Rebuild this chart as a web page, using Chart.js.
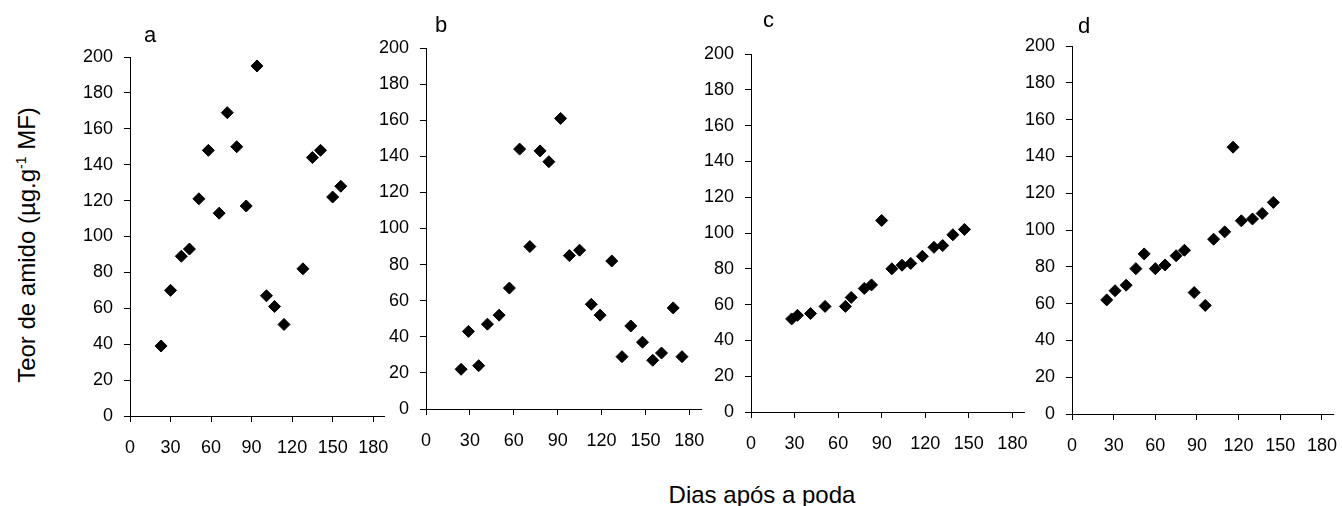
<!DOCTYPE html>
<html>
<head>
<meta charset="utf-8">
<title>Teor de amido</title>
<script src="https://cdn.jsdelivr.net/npm/chart.js@4.4.1/dist/chart.umd.min.js"></script>
<style>
    html, body { margin: 0; padding: 0; background: #fff; }
    body {
        width: 1342px;
        height: 506px;
        position: relative;
        overflow: hidden;
        font-family: Arial, "Liberation Sans", sans-serif;
        color: #000;
    }
    canvas { position: absolute; }
    .panel-label {
        position: absolute;
        font-size: 22px;
        line-height: 22px;
        white-space: nowrap;
    }
    #yTitle {
        position: absolute;
        left: 27px;
        top: 245px;
        font-size: 24px;
        line-height: 26px;
        white-space: nowrap;
        transform: translate(-50%, -50%) rotate(-90deg);
    }
    #yTitle sup { font-size: 14px; line-height: 0; }
    #xTitle {
        position: absolute;
        left: 762px;
        top: 482px;
        font-size: 24px;
        line-height: 26px;
        white-space: nowrap;
        transform: translateX(-50%);
    }
</style>
</head>
<body>
<canvas id="chartA"></canvas>
<canvas id="chartB"></canvas>
<canvas id="chartC"></canvas>
<canvas id="chartD"></canvas>

<div class="panel-label" style="left:144px; top:24px;">a</div>
<div class="panel-label" style="left:435px; top:14px;">b</div>
<div class="panel-label" style="left:763px; top:9px;">c</div>
<div class="panel-label" style="left:1078px; top:15px;">d</div>

<div id="yTitle">Teor de amido (µg.g<sup>-1</sup> MF)</div>
<div id="xTitle">Dias após a poda</div>

<script>
// tick labels
const xTicks = [0, 30, 60, 90, 120, 150, 180];
const yTicks = [0, 20, 40, 60, 80, 100, 120, 140, 160, 180, 200];

// a
const diasA  = [23, 30, 38, 44, 51, 58, 66, 72, 79, 86, 94, 101, 107, 114, 128, 135, 141, 150, 156];
const amidoA = [39, 70, 89, 93, 121, 148, 113, 169, 150, 117, 195, 67, 61, 51, 82, 144, 148, 122, 128];

// b
const diasB  = [24, 29, 36, 42, 50, 57, 64, 71, 78, 84, 92, 98, 105, 113, 119, 127, 134, 140, 148, 155, 161, 169, 175];
const amidoB = [22, 43, 24, 47, 52, 67, 144, 90, 143, 137, 161, 85, 88, 58, 52, 82, 29, 46, 37, 27, 31, 56, 29];

// c
const diasC  = [28, 32, 41, 51, 65, 69, 78, 83, 90, 97, 104, 110, 118, 126, 132, 139, 147];
const amidoC = [52, 54, 55, 59, 59, 64, 69, 71, 107, 80, 82, 83, 87, 92, 93, 99, 102];

// d
const diasD  = [25, 31, 39, 46, 52, 60, 67, 75, 81, 88, 96, 102, 110, 116, 122, 130, 137, 145];
const amidoD = [62, 67, 70, 79, 87, 79, 81, 86, 89, 66, 59, 95, 99, 145, 105, 106, 109, 115];

const FONT = 'Arial, "Liberation Sans", sans-serif';
const PAD_LEFT = 70;   // room for y tick labels
const PAD_TOP = 15;
const PAD_RIGHT = 8;
const PAD_BOTTOM = 50; // room for x tick labels
const X_MAX = 188;     // axis line runs a little past 180

// plot areas in page pixels
const panels = [
    { id: 'chartA', dias: diasA, amido: amidoA, left: 130, right: 384, top: 57, bottom: 416 },
    { id: 'chartB', dias: diasB, amido: amidoB, left: 426, right: 701, top: 48, bottom: 409 },
    { id: 'chartC', dias: diasC, amido: amidoC, left: 751, right: 1024, top: 54, bottom: 412 },
    { id: 'chartD', dias: diasD, amido: amidoD, left: 1072, right: 1333, top: 46, bottom: 414 }
];

function axisStyle() {
    return {
        grid: { drawOnChartArea: false, drawTicks: true, tickLength: 6, color: '#000', lineWidth: 1 },
        border: { display: true, color: '#000', width: 1 }
    };
}

function makePanel(p) {
    const canvas = document.getElementById(p.id);
    const w = p.right - p.left + PAD_LEFT + PAD_RIGHT;
    const h = p.bottom - p.top + PAD_TOP + PAD_BOTTOM;
    canvas.width = w;
    canvas.height = h;
    canvas.style.width = w + 'px';
    canvas.style.height = h + 'px';
    canvas.style.left = (p.left - PAD_LEFT) + 'px';
    canvas.style.top = (p.top - PAD_TOP) + 'px';

    new Chart(canvas.getContext('2d'), {
        type: 'scatter',
        data: {
            datasets: [{
                data: p.dias.map((d, i) => ({ x: d, y: p.amido[i] })),
                pointStyle: 'rectRot',
                pointRadius: 6,
                pointHoverRadius: 6,
                backgroundColor: '#000',
                borderColor: '#000',
                borderWidth: 1
            }]
        },
        options: {
            responsive: false,
            animation: false,
            devicePixelRatio: 1,
            layout: { padding: { top: PAD_TOP, right: PAD_RIGHT, left: 0, bottom: 0 } },
            plugins: {
                legend: { display: false },
                tooltip: { enabled: false }
            },
            scales: {
                x: {
                    type: 'linear',
                    min: 0,
                    max: X_MAX,
                    afterBuildTicks: s => { s.ticks = xTicks.map(v => ({ value: v })); },
                    afterFit: s => {
                        s.height = PAD_BOTTOM;
                        // keep the plot area fixed, labels may overhang
                        s.paddingLeft = 0;
                        s.paddingRight = 0;
                    },
                    ...axisStyle(),
                    ticks: {
                        color: '#000',
                        font: { family: FONT, size: 18 },
                        padding: 15,
                        maxRotation: 0,
                        autoSkip: false
                    }
                },
                y: {
                    type: 'linear',
                    min: 0,
                    max: 200,
                    afterBuildTicks: s => { s.ticks = yTicks.map(v => ({ value: v })); },
                    afterFit: s => {
                        s.width = PAD_LEFT;
                        s.paddingTop = 0;
                        s.paddingBottom = 0;
                    },
                    ...axisStyle(),
                    ticks: {
                        color: '#000',
                        font: { family: FONT, size: 18 },
                        padding: 11,
                        autoSkip: false
                    }
                }
            }
        }
    });
}

panels.forEach(makePanel);
</script>
</body>
</html>
